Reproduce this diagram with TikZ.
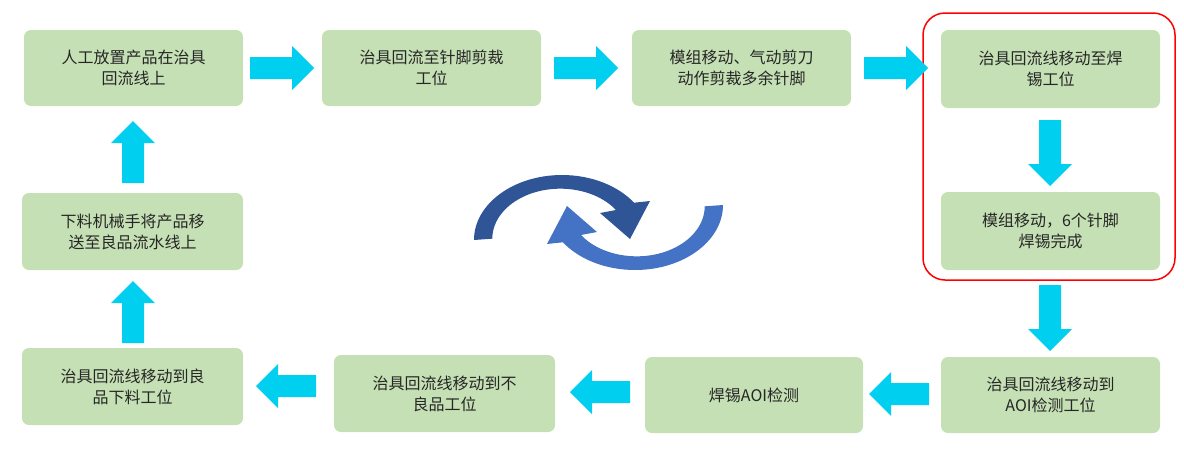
\documentclass[tikz,border=0pt]{standalone}
\usepackage{fontspec}
\setmainfont{Noto Sans CJK SC}
\usetikzlibrary{arrows.meta}
\begin{document}
\begin{tikzpicture}[x=1pt,y=-1pt,
 box/.style={fill=boxg,rounded corners=7pt,inner sep=0pt,align=center,font=\fontsize{16}{21}\selectfont,text=black!85},
 barr/.style={fill=cyanA,draw=none}]
\definecolor{boxg}{HTML}{C5E0B4}
\definecolor{cyanA}{HTML}{00CFF0}
\definecolor{dblue}{HTML}{2F5597}
\definecolor{mblue}{HTML}{4472C4}
\useasboundingbox (0,0) rectangle (1184,453);
\newcommand{\bx}[6]{\node[box,minimum width=#4-#2,minimum height=#5-#3] (#1) at ({(#2+#4)/2},{(#3+#5)/2}) {#6};}
\newcommand{\barrow}[5]{\begin{scope}[shift={(#2,#3)},rotate=#4]
 \coordinate (#1) at (0,0);
 \fill[barr] ({-#5/2},-11) -- ({#5/2-22},-11) -- ({#5/2-22},-22) -- ({#5/2},0) -- ({#5/2-22},22) -- ({#5/2-22},11) -- ({-#5/2},11) -- cycle;
 \end{scope}}
\bx{b1}{24}{30}{243}{106}{人工放置产品在治具\\回流线上}
\bx{b2}{322}{30}{541}{106}{治具回流至针脚剪裁\\工位}
\bx{b3}{632}{30}{851}{106}{模组移动、气动剪刀\\动作剪裁多余针脚}
\bx{b4}{941}{30}{1160}{108}{治具回流线移动至焊\\锡工位}
\bx{b5}{941}{192}{1160}{270}{模组移动，6个针脚\\焊锡完成}
\bx{b6}{941}{357}{1160}{433}{治具回流线移动到\\AOI检测工位}
\bx{b7}{645}{357}{863}{433}{焊锡AOI检测}
\bx{b8}{334}{355}{555}{432}{治具回流线移动到不\\良品工位}
\bx{b9}{22}{348}{243}{425}{治具回流线移动到良\\品下料工位}
\bx{b10}{22}{193}{243}{270}{下料机械手将产品移\\送至良品流水线上}
\node[draw=red,line width=1.5pt,rounded corners=22pt,minimum width=252pt,minimum height=267pt] (grp) at (1049,146.5) {};
\barrow{a1}{282}{68}{0}{64}
\barrow{a2}{586}{68}{0}{64}
\barrow{a3}{896}{68}{0}{64}
\barrow{a4}{1050}{153}{-90}{66}
\barrow{a5}{1050}{318}{-90}{66}
\barrow{a6}{899}{394}{180}{60}
\barrow{a7}{600}{392}{180}{60}
\barrow{a8}{286}{386}{180}{60}
\barrow{a9}{133}{312}{90}{62}
\barrow{a10}{133}{152}{90}{62}
\begin{scope}[y=1pt,shift={(0,-453)}]
 \fill[dblue] (474,213) arc[start angle=180,end angle=35,x radius=88,y radius=65]
   -- (650,252) -- (630,214) -- (600,240) -- (616,243)
   arc[start angle=35,end angle=180,x radius=68,y radius=50] -- cycle;
 \begin{scope}[rotate around={180:(598.5,230.5)}]
 \fill[mblue] (474,213) arc[start angle=180,end angle=35,x radius=88,y radius=65]
   -- (650,252) -- (630,214) -- (600,240) -- (616,243)
   arc[start angle=35,end angle=180,x radius=68,y radius=50] -- cycle;
 \end{scope}
\end{scope}
\end{tikzpicture}
\end{document}
